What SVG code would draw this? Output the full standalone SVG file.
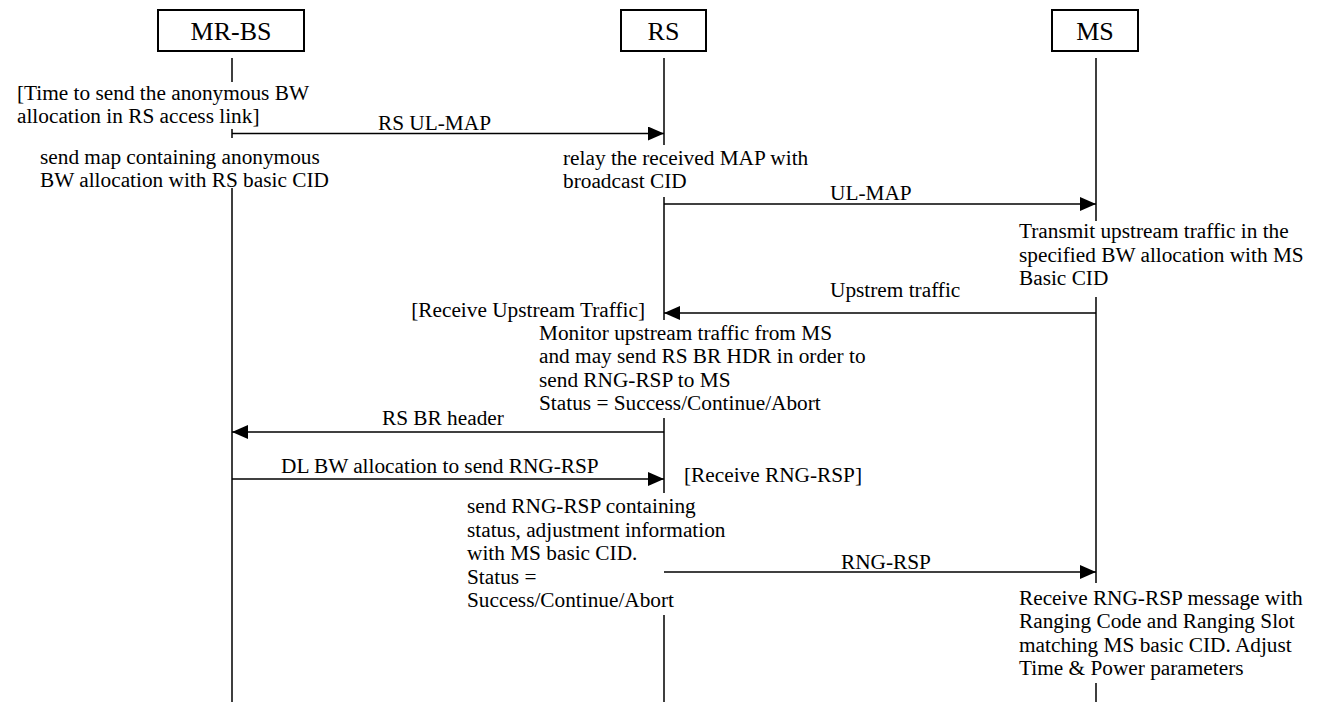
<svg xmlns="http://www.w3.org/2000/svg" width="1317" height="702" viewBox="0 0 1317 702">
<style>
.box{fill:#fff;stroke:#000;stroke-width:2}
.life{stroke:#000;stroke-width:1.5;fill:none}
.msg{stroke:#000;stroke-width:1.5;fill:none;marker-end:url(#ah)}
.hd{font-family:'Liberation Serif',serif;font-size:26px;fill:#000;text-anchor:middle}
.t{font-family:'Liberation Serif',serif;font-size:21.3px;fill:#000}
</style>
<defs>
<marker id="ah" markerWidth="16" markerHeight="14" refX="16" refY="7" orient="auto" markerUnits="userSpaceOnUse">
<path d="M0,0 L16,7 L0,14 z" fill="#000"/>
</marker>
</defs>
<rect width="1317" height="702" fill="#fff"/>
<g id="node-mrbs">
<rect class="box" x="158" y="10" width="146" height="41"/>
<text class="hd" x="231" y="40">MR-BS</text>
<path class="life" d="M232,58 V82 M232,129 V138 M232,188 V702"/>
</g>
<g id="node-rs">
<rect class="box" x="621" y="10" width="85" height="41"/>
<text class="hd" x="663.5" y="40">RS</text>
<path class="life" d="M664,58 V145 M664,197 V320 M664,418 V493 M664,615 V702"/>
</g>
<g id="node-ms">
<rect class="box" x="1052" y="10" width="86" height="41"/>
<text class="hd" x="1095" y="40">MS</text>
<path class="life" d="M1096,58 V221 M1096,297 V583 M1096,683 V702"/>
</g>
<g id="connectors">
<line class="msg" x1="232" y1="133.5" x2="664" y2="133.5"/>
<text class="t" x="378" y="130">RS UL-MAP</text>
<line class="msg" x1="664" y1="204" x2="1096" y2="204"/>
<text class="t" x="830" y="200">UL-MAP</text>
<line class="msg" x1="1096" y1="313" x2="664" y2="313"/>
<text class="t" x="830" y="297">Upstrem traffic</text>
<line class="msg" x1="664" y1="432" x2="232" y2="432"/>
<text class="t" x="382" y="425">RS BR header</text>
<line class="msg" x1="232" y1="479" x2="664" y2="479"/>
<text class="t" x="281" y="473">DL BW allocation to send RNG-RSP</text>
<line class="msg" x1="664" y1="572" x2="1096" y2="572"/>
<text class="t" x="841" y="569">RNG-RSP</text>
</g>
<g id="notes">
<text class="t" x="17" y="100">[Time to send the anonymous BW</text>
<text class="t" x="17" y="123">allocation in RS access link]</text>
<text class="t" x="40" y="164">send map containing anonymous</text>
<text class="t" x="40" y="187">BW allocation with RS basic CID</text>
<text class="t" x="563" y="165">relay the received MAP with</text>
<text class="t" x="563" y="188">broadcast CID</text>
<text class="t" x="1019" y="238">Transmit upstream traffic in the</text>
<text class="t" x="1019" y="262">specified BW allocation with MS</text>
<text class="t" x="1019" y="285">Basic CID</text>
<text class="t" x="645" y="317" text-anchor="end">[Receive Upstream Traffic]</text>
<text class="t" x="539" y="340">Monitor upstream traffic from MS</text>
<text class="t" x="539" y="363">and may send RS BR HDR in order to</text>
<text class="t" x="539" y="387">send RNG-RSP to MS</text>
<text class="t" x="539" y="410">Status = Success/Continue/Abort</text>
<text class="t" x="684" y="482">[Receive RNG-RSP]</text>
<text class="t" x="467" y="513">send RNG-RSP containing</text>
<text class="t" x="467" y="537">status, adjustment information</text>
<text class="t" x="467" y="560">with MS basic CID.</text>
<text class="t" x="467" y="584">Status =</text>
<text class="t" x="467" y="607">Success/Continue/Abort</text>
<text class="t" x="1019" y="605">Receive RNG-RSP message with</text>
<text class="t" x="1019" y="628">Ranging Code and Ranging Slot</text>
<text class="t" x="1019" y="652">matching MS basic CID. Adjust</text>
<text class="t" x="1019" y="675">Time &amp; Power parameters</text>
</g>
</svg>
